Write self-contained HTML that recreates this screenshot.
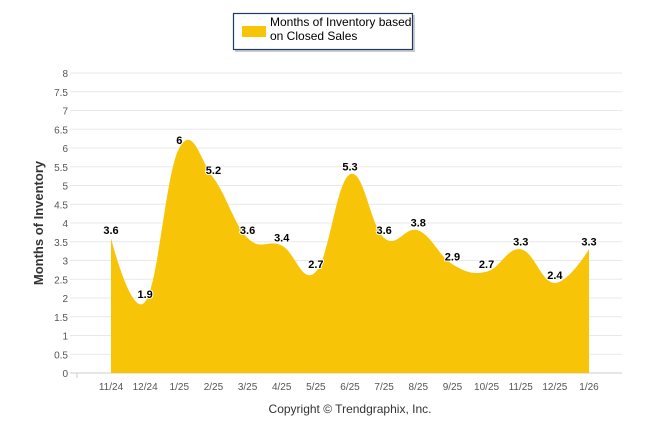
<!DOCTYPE html>
<html><head><meta charset="utf-8"><style>
body{margin:0;background:#fff;width:646px;height:434px;overflow:hidden;font-family:"Liberation Sans",sans-serif}
</style></head><body>
<svg id="chart" width="646" height="434" xmlns="http://www.w3.org/2000/svg">
<g>
<rect x="235" y="15" width="180" height="37" fill="#9a9a9a" opacity="0.5"/>
<rect x="233.5" y="13.5" width="179" height="36" fill="#fff" stroke="#1f3864" stroke-width="1.2"/>
<rect x="242" y="26" width="24" height="11" fill="#f7c408"/>
<text x="270" y="26" font-size="12" fill="#000">Months of Inventory based</text>
<text x="270" y="40" font-size="12" fill="#000">on Closed Sales</text>
</g>
<g id="grid"></g>
<g id="area"></g>
<g id="labels"></g>
<text transform="translate(43,223) rotate(-90)" text-anchor="middle" font-size="13" font-weight="bold" fill="#333">Months of Inventory</text>
<text x="350" y="413" text-anchor="middle" font-size="12" fill="#333">Copyright © Trendgraphix, Inc.</text>
</svg>
<script>
const categories=["11/24","12/24","1/25","2/25","3/25","4/25","5/25","6/25","7/25","8/25","9/25","10/25","11/25","12/25","1/26"];
const values=[3.6,1.9,6,5.2,3.6,3.4,2.7,5.3,3.6,3.8,2.9,2.7,3.3,2.4,3.3];
const yTicks=[0,0.5,1,1.5,2,2.5,3,3.5,4,4.5,5,5.5,6,6.5,7,7.5,8];
const NS="http://www.w3.org/2000/svg";
const y0=373,y8=73,yMax=8;
function yS(v){return y0-(v/yMax)*(y0-y8);}
function xS(i){return 111+i*(589-111)/(categories.length-1);}
function mk(t,a,p){const e=document.createElementNS(NS,t);for(const k in a)e.setAttribute(k,a[k]);p.appendChild(e);return e;}
const grid=document.getElementById('grid');
yTicks.forEach(v=>{
  const l=mk('line',{x1:70,x2:622,y1:yS(v),y2:yS(v),stroke:v===0?'#ccc':'#e8e8e8','stroke-width':1},grid);
  
  
  const t=mk('text',{x:68,y:yS(v)+4,'text-anchor':'end','font-size':10,fill:'#555'},grid);
  t.textContent=v;
  
  
});
categories.forEach((c,i)=>{
  const t=mk('text',{x:xS(i),y:390,'text-anchor':'middle','font-size':10,fill:'#555'},grid);
  t.textContent=c;
  
  
});
const tk=mk('line',{x1:77,x2:77,y1:373,y2:378,stroke:'#ccc'},grid);


const pts=values.map((v,i)=>[xS(i),yS(v)]);
const sm=1.5,den=sm+1;
let d=`M${pts[0][0]},${y0}L${pts[0][0]},${pts[0][1]}`;
function ctrl(i){
  const p=pts[i],pp=pts[i-1],pn=pts[i+1];
  if(!pp||!pn)return [p,p];
  let lx=(sm*p[0]+pp[0])/den,ly=(sm*p[1]+pp[1])/den,rx=(sm*p[0]+pn[0])/den,ry=(sm*p[1]+pn[1])/den;
  let corr=0;
  if(rx!==lx){corr=((ry-ly)*(rx-p[0]))/(rx-lx)+p[1]-ry;}
  ly+=corr;ry+=corr;
  return [[lx,ly],[rx,ry]];
}
const cs=pts.map((_,i)=>ctrl(i));
for(let i=1;i<pts.length;i++){
  const a=cs[i-1][1],b=cs[i][0];
  d+=`C${a[0]},${a[1]} ${b[0]},${b[1]} ${pts[i][0]},${pts[i][1]}`;
}
d+=`L${pts[pts.length-1][0]},${y0}Z`;
const area=mk('path',{d:d,fill:'#f7c408'},document.getElementById('area'));


const lab=document.getElementById('labels');
values.forEach((v,i)=>{
  const t=mk('text',{x:xS(i),y:yS(v)-4,'text-anchor':'middle','font-size':11,'font-weight':'bold',fill:'#000',stroke:'#fff','stroke-width':2,'paint-order':'stroke'},lab);
  t.textContent=v;
  
  
});
</script>
</body></html>
